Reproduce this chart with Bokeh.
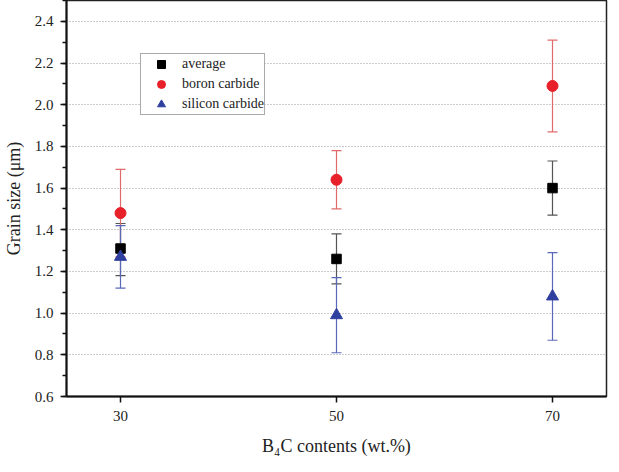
from bokeh.plotting import figure
from bokeh.models import ColumnDataSource, Legend, LegendItem, FixedTicker, Range1d, CustomJSTickFormatter
from bokeh.embed import file_html
from bokeh.resources import INLINE

b4c = [30, 50, 70]
avg = [1.31, 1.26, 1.60]
avg_lo = [1.18, 1.14, 1.47]
avg_hi = [1.43, 1.38, 1.73]
bc = [1.48, 1.64, 2.09]
bc_lo = [1.27, 1.50, 1.87]
bc_hi = [1.69, 1.78, 2.31]
sc = [1.27, 0.99, 1.08]
sc_lo = [1.12, 0.81, 0.87]
sc_hi = [1.42, 1.17, 1.29]
y_ticks = [0.6, 0.8, 1.0, 1.2, 1.4, 1.6, 1.8, 2.0, 2.2, 2.4]

FONT = "Liberation Serif"

p = figure(width=611, height=464, output_backend="svg", toolbar_location=None,
           x_range=Range1d(25, 75), y_range=Range1d(0.6, 2.5),
           min_border_left=66, min_border_top=0, min_border_right=5, min_border_bottom=68)

p.outline_line_color = "#222222"
p.outline_line_width = 1.5
p.background_fill_color = "white"
p.border_fill_color = "white"

p.xgrid.visible = False
p.ygrid.ticker = FixedTicker(ticks=y_ticks)
p.ygrid.grid_line_color = "#999999"
p.ygrid.grid_line_dash = "1 2"
p.ygrid.grid_line_width = 1

p.yaxis.ticker = FixedTicker(ticks=y_ticks, minor_ticks=[0.6 + 0.1 * i for i in range(20)])
p.xaxis.ticker = FixedTicker(ticks=b4c)
p.yaxis.formatter = CustomJSTickFormatter(code="return tick.toFixed(1);")

for ax in (p.xaxis[0], p.yaxis[0]):
    ax.axis_line_width = 2
    ax.axis_line_color = "#111111"
    ax.major_tick_line_color = "#111111"
    ax.major_tick_line_width = 1.5
    ax.minor_tick_line_color = "#111111"
    ax.minor_tick_line_width = 1.5
    ax.major_tick_out = 6
    ax.major_tick_in = 0
    ax.minor_tick_out = 4
    ax.minor_tick_in = 0
    ax.major_label_text_font = FONT
    ax.major_label_text_font_size = "15px"
    ax.major_label_text_color = "#222222"
    ax.axis_label_text_font = FONT
    ax.axis_label_text_font_size = "18px"
    ax.axis_label_text_font_style = "normal"
    ax.axis_label_text_color = "#222222"

p.xaxis.minor_tick_line_color = None
p.xaxis.major_label_standoff = 8
p.xaxis.axis_label = "B\u2084C contents (wt.%)"
p.xaxis.axis_label_standoff = 12
p.yaxis.axis_label = "Grain size (\u03bcm)"
p.yaxis.axis_label_standoff = 8
p.yaxis.major_label_standoff = 7

series = [
    (avg, avg_lo, avg_hi, "#555555"),
    (bc, bc_lo, bc_hi, "#e06a6a"),
    (sc, sc_lo, sc_hi, "#5a68b8"),
]
for vals, lo, hi, ecol in series:
    src = ColumnDataSource(dict(x=b4c, y=vals, lo=lo, hi=hi))
    p.segment(x0="x", y0="lo", x1="x", y1="hi", source=src, line_color=ecol, line_width=1.2)
    p.scatter(x="x", y="lo", source=src, marker="dash", size=10, line_color=ecol, line_width=1.2)
    p.scatter(x="x", y="hi", source=src, marker="dash", size=10, line_color=ecol, line_width=1.2)

r_avg = p.scatter(b4c, avg, marker="square", size=9.5, fill_color="black", line_color="black")
r_bc = p.scatter(b4c, bc, marker="circle", size=11, fill_color="#e8202a", line_color="#e8202a")
r_sc = p.scatter(b4c, sc, marker="triangle", size=12, fill_color="#2f3f9f", line_color="#2f3f9f")

legend = Legend(items=[
    LegendItem(label="average", renderers=[r_avg]),
    LegendItem(label="boron carbide", renderers=[r_bc]),
    LegendItem(label="silicon carbide", renderers=[r_sc]),
], location=(74, 281))
legend.label_text_font = FONT
legend.label_text_font_size = "14px"
legend.label_text_color = "#222222"
legend.border_line_color = "#555555"
legend.border_line_width = 1
legend.background_fill_alpha = 1
legend.padding = 0
legend.spacing = -3
legend.label_height = 20
legend.glyph_height = 20
legend.glyph_width = 40
legend.label_standoff = 1
legend.margin = 0
p.add_layout(legend, "center")

open("out.html", "w").write(file_html(p, INLINE))
